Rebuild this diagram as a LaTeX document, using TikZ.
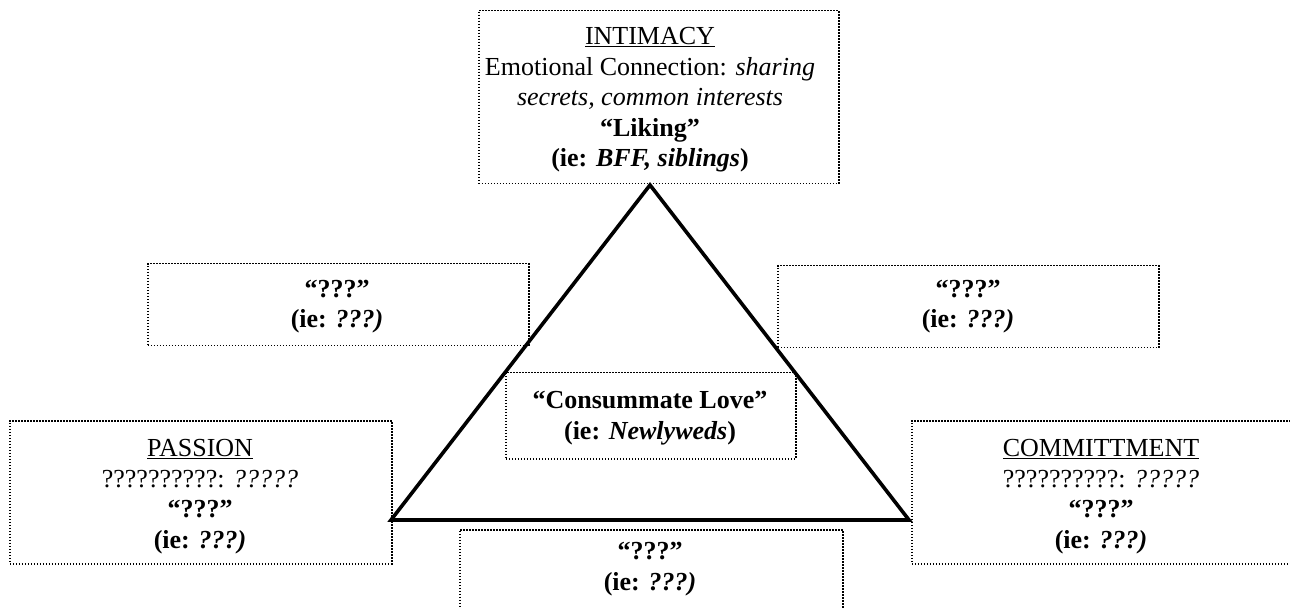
\documentclass[tikz,border=0pt]{standalone}
\usepackage{fontspec}
\setmainfont{Liberation Serif}
\begin{document}
\begin{tikzpicture}[x=1pt,y=-1pt,
  dotbox/.style={draw, line width=1.5pt, dash pattern=on 1.5pt off 1.5pt, inner sep=0pt, anchor=north west},
  txt/.style={font=\fontsize{26}{30.5}\selectfont, align=center, inner sep=0pt, anchor=base},
  tri/.style={draw, line width=3.6pt, line join=miter}]
\useasboundingbox (0,0) rectangle (1290,609);
% boxes
\node[dotbox, minimum width=360pt, minimum height=173pt] (intbox) at (478,10) {};
\node[dotbox, minimum width=381pt, minimum height=82pt] (lqbox) at (147,263) {};
\node[dotbox, minimum width=381pt, minimum height=82pt] (rqbox) at (777,265) {};
\node[dotbox, minimum width=290pt, minimum height=86pt] (conbox) at (505,372) {};
\node[dotbox, minimum width=382pt, minimum height=143pt] (pasbox) at (9,420) {};
\node[dotbox, minimum width=382pt, minimum height=143pt] (combox) at (911,420) {};
\node[dotbox, minimum width=383pt, minimum height=100pt] (botbox) at (459,529) {};
% triangle
\coordinate (apex) at (650,185);
\coordinate (bl) at (391,520);
\coordinate (br) at (909,520);
\draw[tri] (apex) -- (br) -- (bl) -- cycle;
% texts (anchor = baseline of last line)
\node[txt] (inttxt) at (650,167) {\underline{INTIMACY}\\Emotional Connection: \textit{sharing}\\\textit{secrets, common interests}\\\textbf{“Liking”}\\\textbf{(ie: \textit{BFF, siblings})}};
\node[txt] (lqtxt) at (337,328) {\textbf{“???”}\\\textbf{(ie: \textit{???)}}};
\node[txt] (rqtxt) at (968,328) {\textbf{“???”}\\\textbf{(ie: \textit{???)}}};
\node[txt] (contxt) at (650,439) {\textbf{“Consummate Love”}\\\textbf{(ie: \textit{Newlyweds})}};
\node[txt] (pastxt) at (200,548) {\underline{PASSION}\\??????????: \textit{?????}\\\textbf{“???”}\\\textbf{(ie: \textit{???)}}};
\node[txt] (comtxt) at (1101,548) {\underline{COMMITTMENT}\\??????????: \textit{?????}\\\textbf{“???”}\\\textbf{(ie: \textit{???)}}};
\node[txt] (bottxt) at (650,590) {\textbf{“???”}\\\textbf{(ie: \textit{???)}}};
\end{tikzpicture}
\end{document}
